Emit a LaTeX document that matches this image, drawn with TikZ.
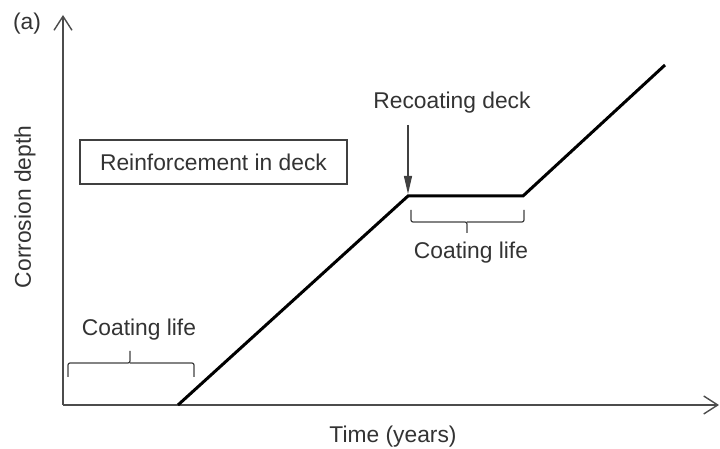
\documentclass[tikz,border=0pt]{standalone}
\usepackage{fontspec}
\setmainfont{Liberation Sans}
\usetikzlibrary{arrows.meta}

\begin{document}
\begin{tikzpicture}[x=0.5pt,y=-0.5pt,font=\fontsize{11.4}{13}\selectfont,
	axis/.style={draw=black!70,line width=0.7pt,-{Straight Barb[length=7pt,width=9pt]}},
	curve/.style={line width=1.5pt,line join=miter},
	lbl/.style={text=black!80,inner sep=1pt},
	cbrace/.style={draw=black!75,line width=0.6pt,rounded corners=1pt}]
		\useasboundingbox (0,0) rectangle (720,449);
		\coordinate (o) at (63,405);
		\coordinate (ytop) at (63,15);
		\coordinate (xend) at (719,405);
		\coordinate (0) at (178,405);
		\coordinate (1) at (408,196);
		\coordinate (2) at (523,196);
		\coordinate (3) at (665,65);
		\coordinate (rectop) at (408,125);
		
		\node[lbl](a)at(27,24) {(a)};
		\node[lbl,rotate=90](ylab)at(25,207) {Corrosion depth};
		\node[lbl](xlab)at(393,437) {Time (years)};
		\node[lbl,draw=black!75,line width=0.7pt,minimum width=133.5pt,minimum height=22pt](box)at(213.5,162) {Reinforcement in deck};
		\node[lbl](rec)at(452,103) {Recoating deck};
		\node[lbl](cl1)at(139,330) {Coating life};
		\node[lbl](cl2)at(471,253) {Coating life};
		
		\draw[axis](o) -- (ytop);
		\draw[axis](o) -- (xend);
		\draw[curve](0) -- (1) -- (2) -- (3);
		\draw[draw=black!75,line width=0.6pt,-{Triangle[length=9pt,width=4pt]},shorten >=1pt](rectop) -- (1);
		
		% braces
		\draw[cbrace](68,377) |- (130,363) -- (130,351) (130,363) -| (194,377);
		\draw[cbrace](411,210) |- (467,222) -- (467,233) (467,222) -| (524,210);
	\end{tikzpicture}
\end{document}
